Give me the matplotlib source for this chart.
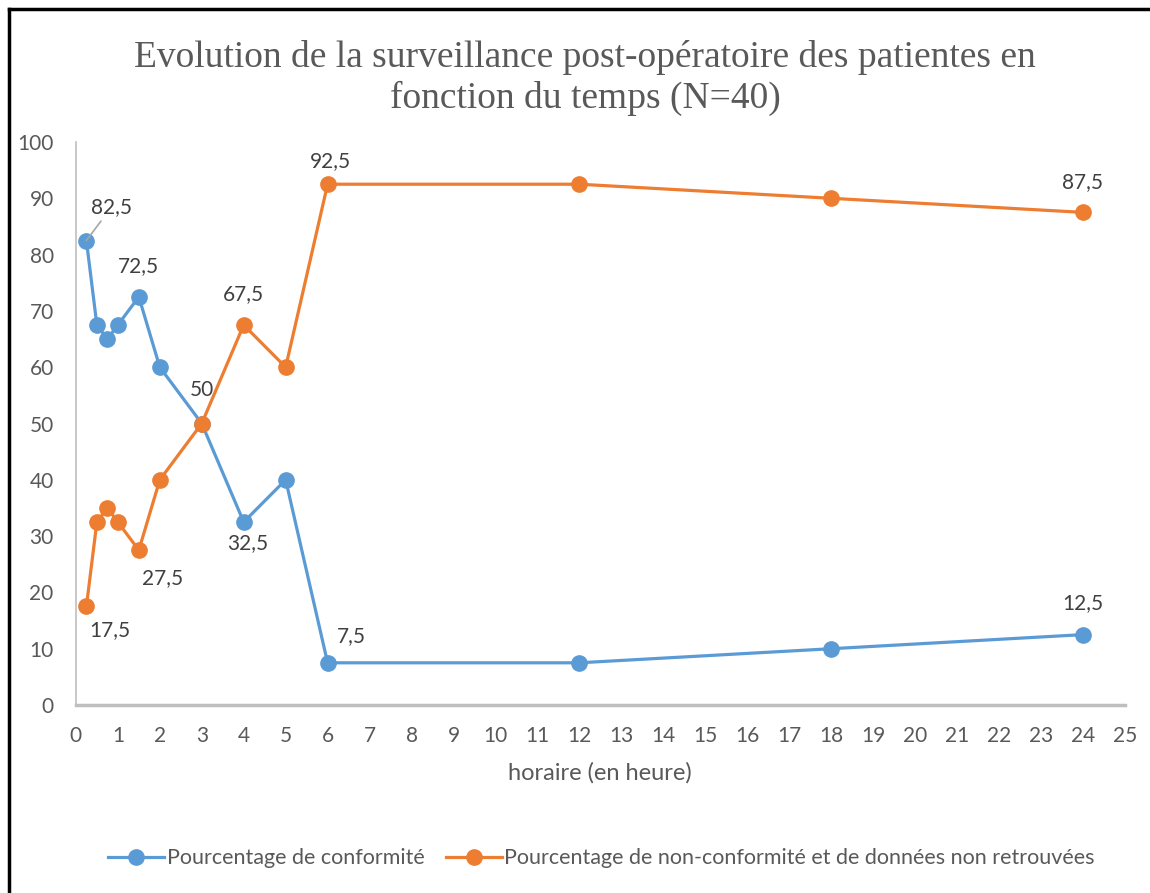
import matplotlib.pyplot as plt
from matplotlib.lines import Line2D

hours = [0.25, 0.5, 0.75, 1, 1.5, 2, 3, 4, 5, 6, 12, 18, 24]
conformite = [82.5, 67.5, 65, 67.5, 72.5, 60, 50, 32.5, 40, 7.5, 7.5, 10, 12.5]
non_conformite = [17.5, 32.5, 35, 32.5, 27.5, 40, 50, 67.5, 60, 92.5, 92.5, 90, 87.5]
x_ticks = list(range(0, 26))
y_ticks = list(range(0, 101, 10))

blue = '#5B9BD5'
orange = '#ED7D31'
grey = '#595959'

plt.rcParams['font.family'] = ['Lato', 'DejaVu Sans']

fig = plt.figure(figsize=(11.5, 8.93), dpi=100)
ax = fig.add_axes([0.066, 0.2105, 0.912, 0.6305])

ax.plot(hours, conformite, color=blue, lw=2.3, marker='o', ms=11,
        label='Pourcentage de conformité', solid_joinstyle='round')
ax.plot(hours, non_conformite, color=orange, lw=2.3, marker='o', ms=11,
        label='Pourcentage de non-conformité et de données non retrouvées',
        solid_joinstyle='round')

ax.set_xlim(0, 25)
ax.set_ylim(0, 100)
ax.set_xticks(x_ticks)
ax.set_yticks(y_ticks)
ax.tick_params(length=0, labelsize=15, colors=grey, pad=15)
ax.tick_params(axis='y', pad=16)
for s in ['top', 'right']:
    ax.spines[s].set_visible(False)
ax.spines['left'].set_color('#BFBFBF')
ax.spines['left'].set_linewidth(1.2)
ax.spines['bottom'].set_color('#BFBFBF')
ax.spines['bottom'].set_linewidth(2.5)
ax.set_xlabel('horaire (en heure)', fontsize=17, color=grey, labelpad=12)

# data labels: (series, index, offset in points)
def lab(xs, ys, i, dx, dy):
    txt = ('%g' % ys[i]).replace('.', ',')
    ax.annotate(txt, (xs[i], ys[i]), xytext=(dx, dy), textcoords='offset points',
                ha='center', va='center', fontsize=15, color='#404040')

lab(hours, conformite, 4, 0, 22)
lab(hours, conformite, 7, 3, -15)
lab(hours, conformite, 9, 17, 19)
lab(hours, conformite, 12, 0, 23)
lab(hours, non_conformite, 0, 17, -17)
lab(hours, non_conformite, 4, 17, -20)
lab(hours, non_conformite, 6, 0, 24)
lab(hours, non_conformite, 7, 0, 22)
lab(hours, non_conformite, 9, 2, 17)
lab(hours, non_conformite, 12, 0, 22)
ax.annotate('82,5', (hours[0], conformite[0]), xytext=(18, 24),
            textcoords='offset points', ha='center', va='center', fontsize=15,
            color='#404040',
            arrowprops=dict(arrowstyle='-', color='#A6A6A6', lw=1.2,
                            shrinkA=1, shrinkB=0))

fig.text(0.509, 0.913, 'Evolution de la surveillance post-opératoire des patientes en\n'
         'fonction du temps (N=40)', ha='center', va='center', fontsize=27,
         color=grey, family='Liberation Serif', linespacing=1.2)

fig.legend(loc='center', bbox_to_anchor=(0.523, 0.039), ncol=2, frameon=False,
           fontsize=15.5, labelcolor=grey, handlelength=2.6, columnspacing=1.0,
           handletextpad=0.1)

fig.add_artist(Line2D([0.008, 0.008], [0, 0.99], color='black', lw=2.5,
                      transform=fig.transFigure))
fig.add_artist(Line2D([0.008, 1], [0.99, 0.99], color='black', lw=2.5,
                      transform=fig.transFigure))

fig.savefig('out.png', dpi=100, facecolor='white')
